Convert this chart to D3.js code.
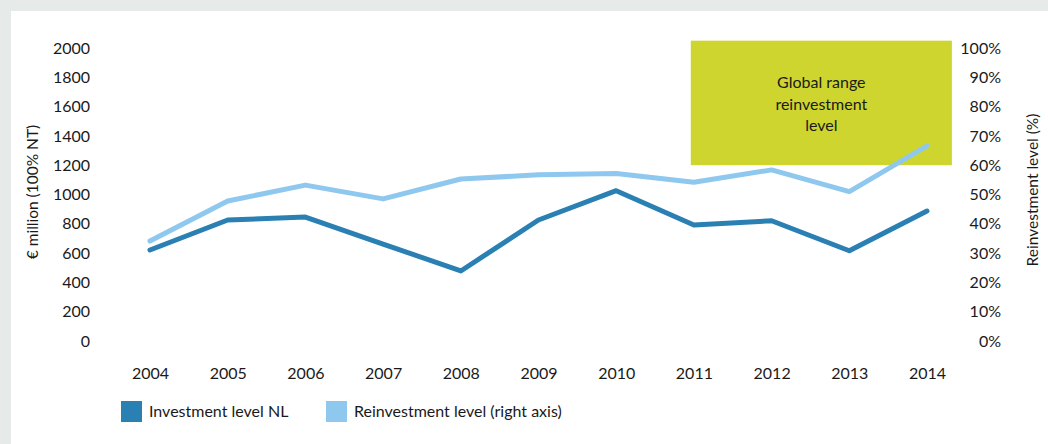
<!DOCTYPE html>
<html>
<head>
<meta charset="utf-8">
<script src="https://cdn.jsdelivr.net/npm/d3@7"></script>
<style>
  body { margin: 0; background: #e6eae9; }
  svg { display: block; font-family: Lato, "Open Sans", sans-serif; }
</style>
</head>
<body>
<script>
// data
var years = [2004, 2005, 2006, 2007, 2008, 2009, 2010, 2011, 2012, 2013, 2014];
var investment = [621, 826, 846, 662, 478, 826, 1026, 792, 821, 616, 887];   // € million
var reinvestment = [34.1, 47.8, 53.2, 48.5, 55.3, 56.7, 57.2, 54.2, 58.4, 51.0, 66.6]; // %
var leftTicks = [0, 200, 400, 600, 800, 1000, 1200, 1400, 1600, 1800, 2000];
var rightTicks = [0, 10, 20, 30, 40, 50, 60, 70, 80, 90, 100];
var rangeYears = [2010.96, 2014.32];
var rangeLevels = [60, 102.5];
var seriesNames = ["Investment level NL", "Reinvestment level (right axis)"];
var seriesColors = ["#2a80b3", "#8fc8ee"];

var width = 1048;
var height = 444;

var x = d3.scaleLinear().domain([2004, 2014]).range([150, 927]);
var yLeft = d3.scaleLinear().domain([0, 2000]).range([341, 48]);
var yRight = d3.scaleLinear().domain([0, 100]).range([341, 48]);

var svg = d3.select("body")
    .append("svg")
    .attr("width", width)
    .attr("height", height);

// white panel
svg.append("rect")
    .attr("x", 11).attr("y", 11)
    .attr("width", width - 11).attr("height", height - 11)
    .attr("fill", "#ffffff");

// global range box
svg.append("rect")
    .attr("x", x(rangeYears[0]))
    .attr("y", yRight(rangeLevels[1]))
    .attr("width", x(rangeYears[1]) - x(rangeYears[0]))
    .attr("height", yRight(rangeLevels[0]) - yRight(rangeLevels[1]))
    .attr("fill", "#cdd52e");

var boxText = svg.append("text")
    .attr("x", (x(rangeYears[0]) + x(rangeYears[1])) / 2)
    .attr("text-anchor", "middle")
    .attr("font-size", 16)
    .attr("fill", "#1a1a1a");
["Global range", "reinvestment", "level"].forEach(function(t, i) {
    boxText.append("tspan")
        .attr("x", (x(rangeYears[0]) + x(rangeYears[1])) / 2)
        .attr("y", 88 + i * 21.5)
        .text(t);
});

// axes
var axisLeft = d3.axisLeft(yLeft).tickValues(leftTicks).tickSize(0).tickPadding(0)
    .tickFormat(d3.format("d"));
var axisRight = d3.axisRight(yRight).tickValues(rightTicks).tickSize(0).tickPadding(0)
    .tickFormat(function(d){ return d + "%"; });
var axisBottom = d3.axisBottom(x).tickValues(years).tickSize(0).tickPadding(0)
    .tickFormat(d3.format("d"));

var gl = svg.append("g").attr("transform", "translate(90, 0)").call(axisLeft);
var gr = svg.append("g").attr("transform", "translate(1001, 0)").call(axisRight);
gr.selectAll("text").attr("text-anchor", "end");
var gb = svg.append("g").attr("transform", "translate(0, 368)").call(axisBottom);

[gl, gr, gb].forEach(function(g) {
    g.select(".domain").remove();
    g.selectAll("text")
        .attr("font-family", "Lato, 'Open Sans', sans-serif")
        .attr("font-size", 16)
        .attr("fill", "#1a1a1a");
});

// axis titles
svg.append("text")
    .attr("transform", "translate(38, 192) rotate(-90)")
    .attr("text-anchor", "middle")
    .attr("font-size", 15.5)
    .attr("fill", "#1a1a1a")
    .text("€ million (100% NT)");

svg.append("text")
    .attr("transform", "translate(1038, 190) rotate(-90)")
    .attr("text-anchor", "middle")
    .attr("font-size", 15.5)
    .attr("fill", "#1a1a1a")
    .text("Reinvestment level (%)");

// lines
var lineLeft = d3.line()
    .x(function(d, i){ return x(years[i]); })
    .y(function(d){ return yLeft(d); });
var lineRight = d3.line()
    .x(function(d, i){ return x(years[i]); })
    .y(function(d){ return yRight(d); });

svg.append("path")
    .attr("d", lineRight(reinvestment))
    .attr("fill", "none")
    .attr("stroke", seriesColors[1])
    .attr("stroke-width", 5)
    .attr("stroke-linejoin", "round")
    .attr("stroke-linecap", "round");

svg.append("path")
    .attr("d", lineLeft(investment))
    .attr("fill", "none")
    .attr("stroke", seriesColors[0])
    .attr("stroke-width", 5)
    .attr("stroke-linejoin", "round")
    .attr("stroke-linecap", "round");

// legend
var legendX = [121, 326];
var legend = svg.selectAll(".legend")
    .data(seriesNames)
    .enter()
    .append("g")
    .attr("class", "legend")
    .attr("transform", function(d, i){ return "translate(" + legendX[i] + ", 401)"; });

legend.append("rect")
    .attr("width", 21)
    .attr("height", 21)
    .attr("fill", function(d, i){ return seriesColors[i]; });

legend.append("text")
    .attr("x", 28)
    .attr("y", 16)
    .attr("font-size", 16)
    .attr("fill", "#1a1a1a")
    .text(function(d){ return d; });
</script>
</body>
</html>
